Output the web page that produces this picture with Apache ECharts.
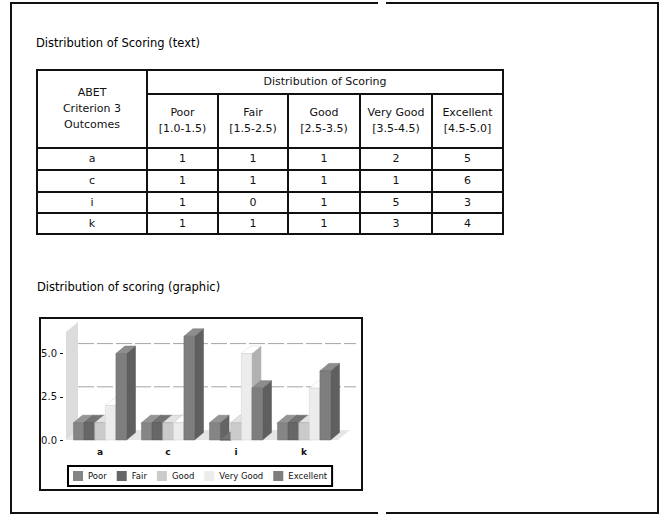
<!DOCTYPE html>
<html>
<head>
<meta charset="utf-8">
<title>Distribution of Scoring</title>
<script src="https://cdn.jsdelivr.net/npm/echarts@6/dist/echarts.min.js"></script>
<style>
html, body { margin: 0; padding: 0; background: #fff; }
#main { position: absolute; left: 0; top: 0; width: 661px; height: 514px; }
#scoreTable {
  position: absolute; left: 36px; top: 69px; width: 467px;
  border-collapse: collapse; table-layout: fixed;
  font: 11px "DejaVu Sans", sans-serif; color: #111; text-align: center;
}
#scoreTable td { border: 2px solid #111; padding: 0; line-height: 16px; vertical-align: middle; }
</style>
</head>
<body>
<div id="main"></div>
<table id="scoreTable"></table>
<script>
// data
const outcomes = ['a', 'c', 'i', 'k'];
const levels = ['Poor', 'Fair', 'Good', 'Very Good', 'Excellent'];
const ranges = ['[1.0-1.5)', '[1.5-2.5)', '[2.5-3.5)', '[3.5-4.5)', '[4.5-5.0]'];
const poor = [1, 1, 1, 1];
const fair = [1, 1, 0, 1];
const good = [1, 1, 1, 1];
const veryGood = [2, 1, 5, 3];
const excellent = [5, 6, 3, 4];
const yTicks = [0, 2.5, 5.0];

const scores = [poor, fair, good, veryGood, excellent];
const colors = ['#858585', '#676767', '#cbcbcb', '#ececec', '#7e7e7e'];
const Y_MAX = 6.25;

// ---- table ----
const table = document.getElementById('scoreTable');
const colgroup = document.createElement('colgroup');
[110, 71, 70, 72, 72, 71].forEach(w => {
  const col = document.createElement('col');
  col.style.width = w + 'px';
  colgroup.appendChild(col);
});
table.appendChild(colgroup);

function addRow(h) {
  const tr = table.insertRow();
  tr.style.height = h + 'px';
  return tr;
}
function addCell(tr, lines, colSpan, rowSpan) {
  const td = tr.insertCell();
  lines.forEach((t, i) => {
    if (i) td.appendChild(document.createElement('br'));
    td.appendChild(document.createTextNode(t));
  });
  if (colSpan) td.colSpan = colSpan;
  if (rowSpan) td.rowSpan = rowSpan;
  return td;
}
let tr = addRow(24);
addCell(tr, ['ABET', 'Criterion 3', 'Outcomes'], 0, 2);
addCell(tr, ['Distribution of Scoring'], levels.length);
tr = addRow(54);
levels.forEach((l, i) => addCell(tr, [l, ranges[i]]));
[22, 22, 21, 21].forEach((h, r) => {
  const row = addRow(h);
  addCell(row, [outcomes[r]]);
  scores.forEach(s => addCell(row, [String(s[r])]));
});

// ---- chart ----
const DX = 9, DY = 7.5;   // bar depth
const WX = 12, WY = 10;   // wall / floor depth
const GROUP = 0.78;

function shade(hex, f) {
  const n = parseInt(hex.slice(1), 16);
  const c = [n >> 16, (n >> 8) & 255, n & 255].map(v => Math.max(0, Math.min(255, Math.round(v * f))));
  return 'rgb(' + c.join(',') + ')';
}

function renderWalls(params, api) {
  const band = api.size([1, 0])[0];
  const y0 = api.coord([0, 0])[1];
  const yTop = api.coord([0, Y_MAX])[1];
  const xl = api.coord([0, 0])[0] - band / 2;
  const xr = api.coord([outcomes.length - 1, 0])[0] + band / 2;
  const children = [
    { type: 'polygon', shape: { points: [[xl, y0], [xl, yTop], [xl + WX, yTop - WY], [xl + WX, y0 - WY]] }, style: { fill: '#dcdcdc' } },
    { type: 'polygon', shape: { points: [[xl, y0], [xr, y0], [xr + WX, y0 - WY], [xl + WX, y0 - WY]] }, style: { fill: '#e6e6e6' } }
  ];
  yTicks.filter(v => v > 0).forEach(v => {
    const y = api.coord([0, v])[1] - WY;
    children.push({
      type: 'line',
      shape: { x1: xl + WX, y1: y, x2: xr + WX + 6, y2: y },
      style: { stroke: '#a5a5a5', lineWidth: 1, lineDash: [16, 3] }
    });
  });
  return { type: 'group', children };
}

function barRenderer(slot) {
  return function (params, api) {
    const ci = api.value(0);
    const band = api.size([1, 0])[0];
    const w = band * GROUP / levels.length;
    const base = api.coord([ci, 0]);
    const x = base[0] - band * GROUP / 2 + slot * w;
    const y0 = base[1];
    const y1 = api.coord([ci, api.value(1)])[1];
    const c = colors[slot];
    return {
      type: 'group',
      children: [
        { type: 'polygon', shape: { points: [[x + w, y1], [x + w + DX, y1 - DY], [x + w + DX, y0 - DY], [x + w, y0]] },
          style: { fill: shade(c, 0.75), stroke: shade(c, 0.7), lineWidth: 0.5 } },
        { type: 'polygon', shape: { points: [[x, y1], [x + DX, y1 - DY], [x + w + DX, y1 - DY], [x + w, y1]] },
          style: { fill: shade(c, 1.12), stroke: shade(c, 0.9), lineWidth: 0.5 } },
        { type: 'rect', shape: { x: x, y: y1, width: w, height: y0 - y1 },
          style: { fill: c, stroke: shade(c, 0.88), lineWidth: 0.5 } }
      ]
    };
  };
}

const font = '"DejaVu Sans", sans-serif';
const chart = echarts.init(document.getElementById('main'), null, { renderer: 'svg' });

chart.setOption({
  animation: false,
  graphic: [
    // page frame (scanned sheet, with the small gap top and bottom)
    { type: 'polyline', shape: { points: [[378, 3], [11, 3], [11, 513], [378, 513]] }, style: { stroke: '#111', lineWidth: 2, fill: null } },
    { type: 'polyline', shape: { points: [[386, 3], [658, 3], [658, 513], [386, 513]] }, style: { stroke: '#111', lineWidth: 2, fill: null } },
    { type: 'text', x: 36, y: 43, style: { text: 'Distribution of Scoring (text)', font: '11.5px ' + font, fill: '#000', verticalAlign: 'middle' } },
    { type: 'text', x: 37, y: 287, style: { text: 'Distribution of scoring (graphic)', font: '11.5px ' + font, fill: '#000', verticalAlign: 'middle' } },
    // chart box
    { type: 'rect', z: 10, shape: { x: 40, y: 318, width: 322, height: 172 }, style: { stroke: '#111', lineWidth: 2, fill: null } }
  ],
  legend: {
    data: levels,
    left: 68,
    top: 466,
    itemWidth: 10,
    itemHeight: 10,
    itemGap: 10,
    padding: [5, 5],
    borderColor: '#000',
    borderWidth: 2,
    icon: 'rect',
    textStyle: { fontFamily: font, fontSize: 8.5, color: '#111' }
  },
  grid: { left: 66, top: 332, width: 272, height: 108 },
  xAxis: {
    type: 'category',
    data: outcomes,
    axisLine: { show: false },
    axisTick: { show: false },
    axisLabel: { margin: 7, fontFamily: font, fontSize: 9, fontWeight: 'bold', color: '#111' }
  },
  yAxis: {
    type: 'value',
    min: 0,
    max: Y_MAX,
    interval: 2.5,
    offset: 3,
    axisLine: { show: false },
    axisTick: { show: true, length: 3, customValues: yTicks, lineStyle: { color: '#111' } },
    axisLabel: {
      customValues: yTicks,
      margin: 6,
      fontFamily: font,
      fontSize: 10,
      color: '#111',
      formatter: v => (yTicks.indexOf(v) >= 0 ? v.toFixed(1) : '')
    },
    splitLine: { show: false }
  },
  series: [
    { type: 'custom', name: 'walls', silent: true, clip: false, renderItem: renderWalls, data: [[0, 0]] }
  ].concat(levels.map((name, i) => ({
    type: 'custom',
    name: name,
    clip: false,
    itemStyle: { color: colors[i] },
    renderItem: barRenderer(i),
    encode: { x: 0, y: 1 },
    data: scores[i].map((v, ci) => [ci, v])
  })))
});
</script>
</body>
</html>
